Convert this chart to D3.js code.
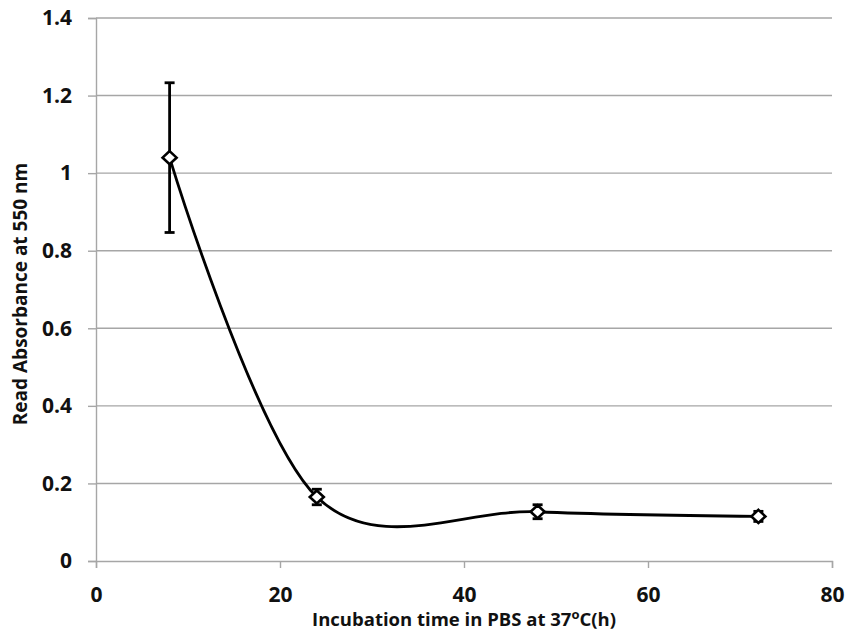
<!DOCTYPE html>
<html>
<head>
<meta charset="utf-8">
<script src="https://cdn.jsdelivr.net/npm/d3@7"></script>
<style>
  html, body { margin: 0; padding: 0; background: #fff; }
  svg { display: block; }
  text { font-family: "Open Sans", "Liberation Sans", sans-serif; font-weight: 700; fill: #111; }
</style>
</head>
<body>
<svg id="chart" width="851" height="636"></svg>
<script>
// Incubation time (h) and absorbance readings with their error margins
const hours = [8, 24, 48, 72];
const absorbance = [1.04, 0.165, 0.127, 0.115];
const errors = [0.193, 0.02, 0.018, 0.013];
const xTicks = [0, 20, 40, 60, 80];
const yTicks = [0, 0.2, 0.4, 0.6, 0.8, 1, 1.2, 1.4];

const svg = d3.select("#chart");
const plotLeft = 96, plotRight = 832, plotTop = 18, plotBottom = 561;

const x = d3.scaleLinear().domain([0, 80]).range([plotLeft, plotRight]);
const y = d3.scaleLinear().domain([0, 1.4]).range([plotBottom, plotTop]);

const gridColor = "#a6a6a6";

// Horizontal gridlines
svg.append("g")
  .selectAll("line")
  .data(yTicks.filter(d => d > 0))
  .join("line")
  .attr("x1", plotLeft).attr("x2", plotRight)
  .attr("y1", d => y(d)).attr("y2", d => y(d))
  .attr("stroke", gridColor).attr("stroke-width", 1.4);

function styleAxis(g) {
  g.select(".domain").attr("stroke", gridColor).attr("stroke-width", 1.4);
  g.selectAll(".tick line").attr("stroke", gridColor).attr("stroke-width", 1.4);
  g.selectAll(".tick text")
    .attr("font-size", 21).attr("font-family", "Open Sans")
    .attr("font-weight", 700).attr("fill", "#111");
}

// Y axis
svg.append("g")
  .attr("transform", `translate(${plotLeft},0)`)
  .call(d3.axisLeft(y).tickValues(yTicks).tickSize(8).tickPadding(16)
    .tickFormat(d => d3.format("~g")(d)))
  .call(styleAxis);

// X axis
svg.append("g")
  .attr("transform", `translate(0,${plotBottom})`)
  .call(d3.axisBottom(x).tickValues(xTicks).tickSize(7).tickPadding(19))
  .call(styleAxis);

// Axis titles
const xTitle = svg.append("text")
  .attr("x", 464).attr("y", 626)
  .attr("text-anchor", "middle").attr("font-size", 18.5);
xTitle.append("tspan").text("Incubation time in PBS at 37");
xTitle.append("tspan").attr("dy", -7).attr("font-size", 13).text("o");
xTitle.append("tspan").attr("dy", 7).text("C(h)");

svg.append("text")
  .attr("transform", `translate(27,294) rotate(-90)`)
  .attr("text-anchor", "middle").attr("font-size", 19)
  .text("Read Absorbance at 550 nm");

const pts = hours.map((h, i) => ({ h, v: absorbance[i], e: errors[i] }));

// Smoothed line through the points
svg.append("path")
  .datum(pts)
  .attr("fill", "none").attr("stroke", "#000").attr("stroke-width", 2.8)
  .attr("d", d3.line().x(d => x(d.h)).y(d => y(d.v)).curve(d3.curveCardinal.tension(0)));

// Error bars
const eb = svg.append("g").attr("stroke", "#000").attr("stroke-width", 2.8);
eb.selectAll("line.v").data(pts).join("line").attr("class", "v")
  .attr("x1", d => x(d.h)).attr("x2", d => x(d.h))
  .attr("y1", d => y(d.v + d.e)).attr("y2", d => y(d.v - d.e));
eb.selectAll("line.cap-hi").data(pts).join("line").attr("class", "cap-hi")
  .attr("x1", d => x(d.h) - 5).attr("x2", d => x(d.h) + 5)
  .attr("y1", d => y(d.v + d.e)).attr("y2", d => y(d.v + d.e));
eb.selectAll("line.cap-lo").data(pts).join("line").attr("class", "cap-lo")
  .attr("x1", d => x(d.h) - 5).attr("x2", d => x(d.h) + 5)
  .attr("y1", d => y(d.v - d.e)).attr("y2", d => y(d.v - d.e));

// Diamond markers
svg.append("g").selectAll("path").data(pts).join("path")
  .attr("transform", d => `translate(${x(d.h)},${y(d.v)})`)
  .attr("d", "M0,-6.5 L7,0 L0,6.5 L-7,0 Z")
  .attr("fill", "#fff").attr("stroke", "#000").attr("stroke-width", 2.6);
</script>
</body>
</html>
